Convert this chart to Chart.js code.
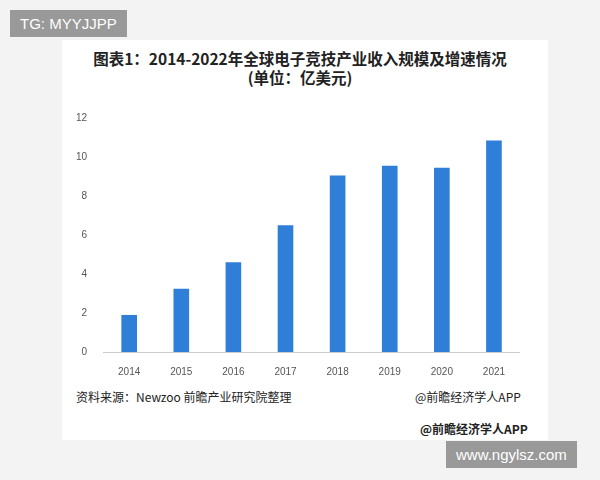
<!DOCTYPE html>
<html><head><meta charset="utf-8">
<script src="https://cdn.jsdelivr.net/npm/chart.js@4"></script>
<style>
body{margin:0;width:600px;height:480px;background:#f3f3f3;position:relative;font-family:"Noto Sans CJK SC","Noto Sans",sans-serif;overflow:hidden}
#panel{position:absolute;left:62px;top:40px;width:486px;height:400px;background:#fff}
#title{position:absolute;left:0;width:600px;top:49px;text-align:center;font-weight:bold;font-size:15.5px;line-height:19px;color:#222}
#wrap{position:absolute;left:68px;top:104px;width:452px;height:280px}
.t{position:absolute;font-size:12px;color:#222}
.tag{position:absolute;background:#999;color:#fff;font-family:"Liberation Sans",sans-serif;font-size:15px;padding:5px 10px}
</style></head><body>
<div id="panel"></div>
<div id="title">图表1：2014-2022年全球电子竞技产业收入规模及增速情况<br>(单位：亿美元)</div>
<div id="wrap"><canvas id="c"></canvas></div>
<div class="t" style="left:76px;top:388px">资料来源：Newzoo 前瞻产业研究院整理</div>
<div class="t" style="left:415px;top:388px">@前瞻经济学人APP</div>
<div class="t" style="left:420px;top:420px;font-weight:bold">@前瞻经济学人APP</div>
<div class="tag" style="left:10px;top:10px">TG: MYYJJPP</div>
<div class="tag" style="left:446px;top:441px">www.ngylsz.com</div>
<script>
// chart data
const years = ["2014","2015","2016","2017","2018","2019","2020","2021"];
const revenue = [1.9, 3.25, 4.6, 6.5, 9.05, 9.55, 9.45, 10.85];

const ctx = document.getElementById('c').getContext('2d');
new Chart(ctx, {
    type: "bar",
    data: {
        labels: years,
        datasets: [{
            data: revenue,
            backgroundColor: "#2f7ed8",
            barPercentage: 0.3,
            categoryPercentage: 1
        }]
    },
    options: {
        responsive: true,
        maintainAspectRatio: false,
        animation: false,
        plugins: {legend: {display: false}, tooltip: {enabled: false}},
        scales: {
            y: {
                min: 0, max: 12,
                ticks: {stepSize: 2, color: "#555", font: {size: 10}, padding: 8},
                grid: {display: false},
                border: {display: false}
            },
            x: {
                ticks: {color: "#555", font: {size: 10}, padding: 6},
                grid: {display: false},
                border: {color: "#ccc"}
            }
        }
    }
});
</script>
</body></html>
